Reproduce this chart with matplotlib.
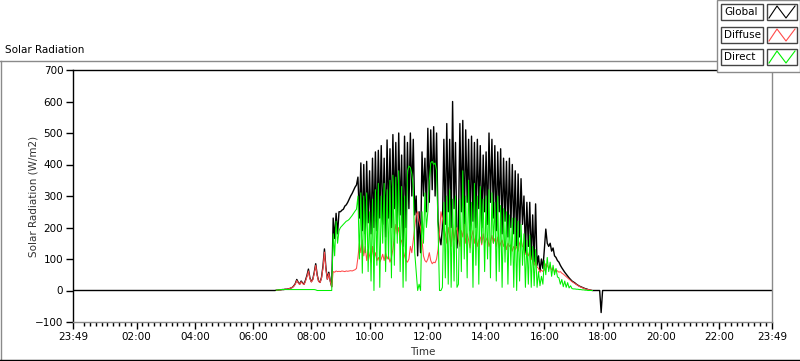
import numpy as np
import matplotlib
matplotlib.use('Agg')
import matplotlib.pyplot as plt
from matplotlib.lines import Line2D
from matplotlib.patches import Rectangle
from matplotlib.ticker import FixedLocator, MultipleLocator

W, H = 800, 361

# samples every 3 min from 06:00 to 18:00 (one row = one hour)
t_start = 6.0
t_step = 3 / 60.0

global_rad = [
    0, 0, 0, 0, 0, 0, 0, 0, 0, 0, 0, 0, 0, 0, 0, 0, 1, 1, 2, 2,
    3, 3, 4, 4, 5, 6, 8, 10, 15, 22, 35, 26, 20, 30, 24, 20, 33, 48, 68, 40,
    28, 36, 58, 85, 50, 30, 26, 42, 78, 132, 72, 36, 58, 30, 12, 230, 165, 245, 180, 250,
    250, 255, 258, 268, 272, 280, 290, 300, 308, 318, 328, 335, 360, 230, 405, 190, 400, 180, 410, 215,
    380, 180, 420, 200, 440, 190, 445, 230, 460, 210, 420, 170, 478, 230, 450, 200, 495, 260, 470, 200,
    500, 240, 430, 140, 490, 200, 470, 260, 500, 300, 480, 240, 300, 110, 250, 120, 440, 300, 420, 250,
    515, 280, 510, 320, 520, 300, 500, 220, 170, 145, 200, 480, 210, 530, 250, 480, 200, 600, 260, 470,
    135, 200, 530, 250, 540, 200, 510, 280, 480, 190, 490, 220, 470, 200, 480, 260, 460, 200, 430, 250,
    440, 210, 500, 280, 480, 230, 460, 190, 440, 250, 450, 180, 420, 220, 410, 170, 420, 200, 400, 180,
    380, 140, 370, 170, 355, 210, 300, 120, 280, 140, 280, 100, 240, 90, 275, 80, 110, 60, 100, 70,
    130, 195, 150, 140, 150, 125, 135, 110, 105, 95, 90, 80, 72, 65, 58, 52, 46, 40, 35, 30,
    27, 24, 20, 17, 14, 12, 10, 8, 6, 5, 3, 2, 1, 0, 0, 0, 0, 0, 0, -70,
    0,
]

N = None
diffuse_rad = [
    N, N, N, N, N, N, N, N, N, N, N, N, N, N, N, N, 1, 1, 2, 2,
    3, 3, 4, 4, 5, 6, 8, 10, 14, 20, 32, 24, 19, 28, 22, 19, 30, 44, 62, 38,
    27, 34, 54, 80, 48, 29, 25, 40, 72, 122, 68, 35, 54, 29, 12, 60, 58, 62, 60, 61,
    60, 62, 61, 60, 62, 61, 62, 63, 62, 64, 66, 70, 105, 150, 120, 160, 110, 140, 95, 130,
    110, 90, 140, 100, 120, 95, 105, 90, 100, 115, 95, 120, 100, 110, 90, 105, 130, 170, 210, 180,
    200, 150, 160, 130, 110, 95, 90, 100, 140, 120, 160, 200, 240, 250, 220, 200, 160, 110, 95, 90,
    100, 120, 95, 85, 90, 88, 100, 130, 180, 250, 230, 200, 180, 150, 200, 170, 140, 210, 160, 190,
    200, 160, 140, 190, 170, 210, 150, 180, 160, 135, 170, 190, 150, 175, 140, 160, 170, 145, 180, 150,
    160, 170, 140, 155, 175, 150, 165, 140, 170, 135, 150, 160, 140, 155, 130, 150, 140, 145, 125, 140,
    130, 140, 125, 150, 160, 140, 135, 115, 120, 110, 125, 100, 95, 80, 95, 75, 70, 58, 65, 60,
    65, 85, 80, 70, 78, 65, 72, 60, 66, 62, 58, 60, 55, 52, 48, 44, 40, 36, 32, 28,
    25, 22, 19, 16, 13, 11, 9, 7, 5, 4, 3, 2, 1, 0, N, N, N, N, N, N,
    N,
]

direct_rad = [
    N, N, N, N, N, N, N, N, N, N, N, N, N, N, N, N, 1, 2, 2, 3,
    3, 3, 3, 3, 3, 3, 3, 3, 3, 3, 3, 3, 3, 3, 3, 3, 3, 3, 3, 3,
    3, 3, 3, 2, 0, 0, 0, 0, 0, 0, 0, 0, 0, 0, 0, 180, 110, 220, 150, 190,
    200, 205, 210, 215, 220, 222, 226, 232, 238, 245, 252, 258, 300, 100, 310, 55, 300, 120, 310, 60,
    250, 30, 290, 0, 320, 80, 340, 10, 300, 150, 340, 60, 320, 100, 350, 40, 366, 80, 360, 150,
    380, 60, 330, 10, 300, 30, 380, 395, 390, 370, 330, 120, 60, 0, 20, 0, 250, 150, 310, 200,
    250, 350, 405, 410, 400, 405, 380, 200, 0, 0, 10, 280, 40, 300, 20, 320, 10, 290, 30, 300,
    10, 20, 290, 60, 380, 100, 300, 40, 350, 120, 280, 10, 340, 80, 300, 20, 330, 150, 290, 60,
    300, 100, 320, 40, 310, 150, 280, 30, 300, 60, 270, 10, 260, 90, 250, 20, 240, 80, 230, 10,
    230, 0, 220, 30, 210, 80, 180, 10, 160, 20, 175, 10, 140, 15, 130, 10, 60, 15, 45, 20,
    95, 50, 105, 60, 90, 45, 80, 50, 70, 43, 40, 20, 35, 12, 30, 10, 25, 8, 15, 6,
    5, 5, 4, 4, 3, 3, 2, 2, 1, 1, 0, 0, 0, 0, N, N, N, N, N, N,
    N,
]

x_lo = -11 / 60.0          # 23:49 previous day
x_hi = 24 - 11 / 60.0      # 23:49
tick_hours = [x_lo, 2, 4, 6, 8, 10, 12, 14, 16, 18, 20, 22, x_hi]
tick_labels = ['23:49', '02:00', '04:00', '06:00', '08:00', '10:00', '12:00',
               '14:00', '16:00', '18:00', '20:00', '22:00', '23:49']
series_names = ['Global', 'Diffuse', 'Direct']
series_colors = ['#000000', '#ff4a4a', '#00f000']

t = t_start + t_step * np.arange(len(global_rad))
g = np.array(global_rad, dtype=float)
d = np.array([np.nan if v is None else v for v in diffuse_rad], dtype=float)
r = np.array([np.nan if v is None else v for v in direct_rad], dtype=float)

# global trace runs through the night at 0
tg = np.concatenate([[x_lo], t, [x_hi]])
gg = np.concatenate([[0.0], g, [0.0]])

plt.rcParams['font.family'] = ['DejaVu Sans']
fig = plt.figure(figsize=(W / 100, H / 100), dpi=100)
ax = fig.add_axes([73 / W, 1 - 322 / H, (772 - 73) / W, (322 - 70) / H])

ax.plot(tg, gg, color=series_colors[0], lw=1.0)
ax.plot(t, d, color=series_colors[1], lw=0.75)
ax.plot(t, r, color=series_colors[2], lw=0.75)

ax.set_xlim(x_lo, x_hi)
ax.set_ylim(-100, 700)
ax.yaxis.set_major_locator(MultipleLocator(100))
ax.xaxis.set_major_locator(FixedLocator(tick_hours))
ax.set_xticklabels(tick_labels)
ax.xaxis.set_minor_locator(FixedLocator(np.arange(0.2, 23.8, 0.2)))
ax.tick_params(axis='both', which='major', length=5, width=1, labelsize=7.5, pad=2)
ax.tick_params(axis='x', which='minor', length=3, width=1)

for side in ['left', 'top']:
    ax.spines[side].set_color('black')
for side in ['right', 'bottom']:
    ax.spines[side].set_color('#8a8a8a')
for s in ax.spines.values():
    s.set_linewidth(1)

ax.set_ylabel('Solar Radiation (W/m2)', fontsize=7.5, color='#333333')
ax.yaxis.set_label_coords(-0.05, 0.5)
ax.set_xlabel('Time', fontsize=7.5, color='#333333')
ax.xaxis.set_label_coords(0.5, -0.1)


def px(x, y):
    return x / W, 1 - y / H


# outer panel
for (x0, y0), (x1, y1), c in [((0, 61), (717, 61), '#8a8a8a'),
                              ((0.5, 61), (0.5, 361), '#8a8a8a'),
                              ((0, 360), (800, 360), '#000000')]:
    a, b = px(x0, y0)
    c0, d0 = px(x1, y1)
    fig.add_artist(Line2D([a, c0], [b, d0], color=c, lw=1, transform=fig.transFigure))

fig.text(*px(5, 50), 'Solar Radiation', fontsize=7.5, va='center', ha='left')

# legend panel
lx, ly = px(717, 72)
fig.add_artist(Rectangle((lx, ly), (800 - 717) / W, 72 / H, transform=fig.transFigure,
                         facecolor='white', edgecolor='#8a8a8a', lw=1, zorder=5))
rows = [12, 35, 57]
for yc, name, col in zip(rows, series_names, series_colors):
    bx, by = px(721, yc + 8)
    fig.add_artist(Rectangle((bx, by), 42 / W, 16 / H, transform=fig.transFigure,
                             facecolor='white', edgecolor='#444444', lw=1, zorder=6))
    fig.text(*px(724, yc), name, fontsize=7.5, va='center', ha='left', zorder=7)
    ix, iy = px(767, yc + 8)
    fig.add_artist(Rectangle((ix, iy), 30 / W, 16 / H, transform=fig.transFigure,
                             facecolor='white', edgecolor='#444444', lw=1, zorder=6))
    zx = [769, 777, 786, 795]
    zy = [yc + 6, yc - 6, yc + 6, yc - 6]
    pts = [px(a, b) for a, b in zip(zx, zy)]
    fig.add_artist(Line2D([p[0] for p in pts], [p[1] for p in pts], color=col, lw=0.8,
                          transform=fig.transFigure, zorder=7))

fig.savefig('out.png', dpi=100)
